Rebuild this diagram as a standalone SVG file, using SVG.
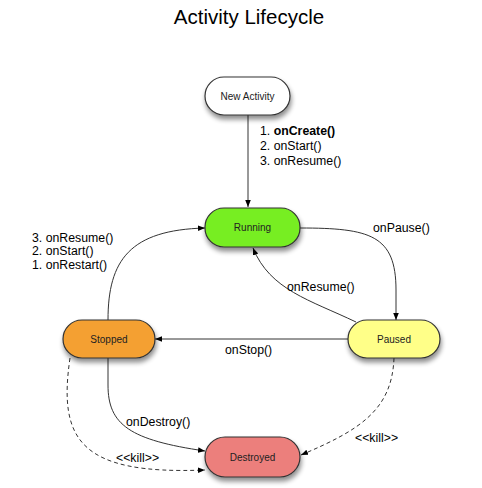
<svg xmlns="http://www.w3.org/2000/svg" width="482" height="488" viewBox="0 0 482 488">
<defs>
<filter id="sh" x="-20%" y="-20%" width="150%" height="170%">
<feGaussianBlur in="SourceAlpha" stdDeviation="2.5"/>
<feOffset dx="1" dy="4" result="b"/>
<feComponentTransfer><feFuncA type="linear" slope="0.45"/></feComponentTransfer>
<feMerge><feMergeNode/><feMergeNode in="SourceGraphic"/></feMerge>
</filter>
<marker id="ah" viewBox="0 0 10 10" refX="10" refY="5" markerWidth="7" markerHeight="7" orient="auto" markerUnits="userSpaceOnUse">
<path d="M0,1 L10,5 L0,9 z" fill="#000"/>
</marker>
</defs>
<style>
.node{stroke:#333;stroke-width:1.2;filter:url(#sh)}
.nl{font-family:"Liberation Sans",Arial,sans-serif;font-size:10px;fill:#222;text-anchor:middle}
.lbl{font-family:"Liberation Sans",Arial,sans-serif;font-size:12.3px;fill:#000}
.c{fill:none;stroke:#333;stroke-width:1;marker-end:url(#ah)}
.d{fill:none;stroke:#333;stroke-width:1;stroke-dasharray:4,3;marker-end:url(#ah)}
</style>
<rect width="482" height="488" fill="#fff"/>
<text x="249" y="24" font-family="Liberation Sans,Arial,sans-serif" font-size="20.5" text-anchor="middle" fill="#000">Activity Lifecycle</text>

<g id="connectors">
<path class="c" d="M248,115 L248,207"/>
<path class="c" d="M300,228 C370,228 396,235 396,290 L396,320"/>
<path class="c" d="M356,322 C310,300 270,290 253,248"/>
<path class="c" d="M348,339 L155,339"/>
<path class="c" d="M108,320 C108,260 130,230 205,228"/>
<path class="c" d="M108,358 L108,385 C108,425 130,440 205,451"/>
<path class="d" d="M70,358 C58,440 80,475 205,470"/>
<path class="d" d="M394,358 C392,410 360,430 301,455"/>
<text class="lbl" x="260" y="135">1. <tspan font-weight="bold">onCreate()</tspan></text>
<text class="lbl" x="260" y="150">2. onStart()</text>
<text class="lbl" x="260" y="165">3. onResume()</text>
<text class="lbl" x="373" y="232">onPause()</text>
<text class="lbl" x="287" y="291">onResume()</text>
<text class="lbl" x="225" y="354">onStop()</text>
<text class="lbl" x="32" y="242">3. onResume()</text>
<text class="lbl" x="32" y="255">2. onStart()</text>
<text class="lbl" x="32" y="269">1. onRestart()</text>
<text class="lbl" x="126" y="426">onDestroy()</text>
<text class="lbl" x="116" y="462" font-size="10.5">&lt;&lt;kill&gt;&gt;</text>
<text class="lbl" x="355" y="442" font-size="10.5">&lt;&lt;kill&gt;&gt;</text>
</g>

<g id="new-activity">
<rect class="node" x="205" y="77" width="85" height="38" rx="19" fill="#fff"/>
<text class="nl" x="247.5" y="100">New Activity</text>
</g>
<g id="running">
<rect class="node" x="205" y="208" width="95" height="39" rx="19" fill="#77EE22"/>
<text class="nl" x="252.5" y="231">Running</text>
</g>
<g id="paused">
<rect class="node" x="348" y="320" width="92" height="38" rx="19" fill="#FFFF88"/>
<text class="nl" x="394" y="343">Paused</text>
</g>
<g id="stopped">
<rect class="node" x="63" y="320" width="92" height="38" rx="19" fill="#F4A030"/>
<text class="nl" x="109" y="343">Stopped</text>
</g>
<g id="destroyed">
<rect class="node" x="205" y="437" width="95" height="40" rx="20" fill="#EC7F7C"/>
<text class="nl" x="252.5" y="461">Destroyed</text>
</g>
</svg>
